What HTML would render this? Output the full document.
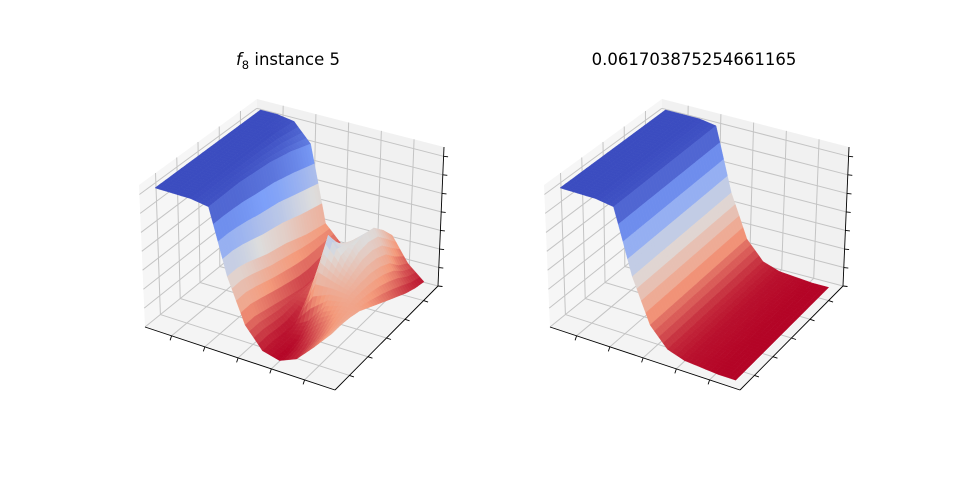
<!DOCTYPE html>
<html><head><meta charset="utf-8"><style>
body{margin:0;background:#fff}
svg{display:block;font-family:"DejaVu Sans","Liberation Sans",sans-serif}
</style></head><body>
<svg id="fig" width="960" height="480" viewBox="0 0 960 480">
<rect width="960" height="480" fill="#fff"/>
<text x="288" y="65" font-size="16.5" text-anchor="middle"><tspan font-style="italic">f</tspan><tspan font-size="11.5" dy="4">8</tspan><tspan dy="-4"> instance 5</tspan></text>
<text x="694" y="65" font-size="16.5" text-anchor="middle">0.061703875254661165</text>
<g id="left"></g>
<g id="right"></g>
</svg>
<script>
// tick positions (axis fractions)
const xTicks=[0.14,0.315,0.49,0.665,0.84];
const yTicks=[0.14,0.32,0.5,0.68,0.86];
const zTicks=[0,0.133,0.266,0.4,0.533,0.666,0.8,0.933];
// data grid coordinates (axis fractions)
const gridU=[0.05,0.14,0.23,0.32,0.41,0.50,0.59,0.68,0.77,0.86,0.95];
const gridV=[0.05,0.14,0.23,0.32,0.41,0.50,0.59,0.68,0.77,0.86,0.95];
// left surface heights, rows = v (front->back), cols = u
const leftZ=[
[.97,.97,.97,.95,.50,.20,.06,.03,.08,.20,.33],
[.97,.97,.97,.95,.50,.20,.06,.03,.10,.22,.33],
[.97,.97,.97,.95,.48,.18,.05,.05,.16,.26,.32],
[.97,.97,.97,.95,.45,.16,.05,.12,.26,.30,.30],
[.97,.97,.97,.94,.42,.14,.08,.40,.36,.33,.26],
[.97,.97,.97,.93,.40,.12,.15,.60,.44,.34,.22],
[.97,.97,.97,.92,.38,.10,.20,.48,.50,.34,.18],
[.97,.97,.97,.90,.35,.10,.22,.42,.52,.32,.14],
[.97,.97,.97,.88,.32,.12,.22,.38,.50,.28,.10],
[.97,.97,.96,.85,.30,.14,.22,.34,.42,.20,.07],
[.97,.97,.95,.82,.28,.16,.22,.28,.32,.15,.05]];
// right surface profile along u (same for every v row)
const rightProfile=[.97,.97,.97,.95,.50,.20,.07,.03,.02,.01,.01];

const NS="http://www.w3.org/2000/svg";
function mk(tag,attrs,parent){const e=document.createElementNS(NS,tag);for(const k in attrs)e.setAttribute(k,attrs[k]);parent.appendChild(e);return e;}
function lerp(a,b,t){return a+(b-a)*t;}
function bil(P,u,v){
  const x=(1-u)*(1-v)*P[0][0]+u*(1-v)*P[1][0]+u*v*P[2][0]+(1-u)*v*P[3][0];
  const y=(1-u)*(1-v)*P[0][1]+u*(1-v)*P[1][1]+u*v*P[2][1]+(1-u)*v*P[3][1];
  return [x,y];}
const cmapStops=[[0,[59,76,192]],[0.25,[124,159,249]],[0.5,[221,221,221]],[0.75,[244,154,123]],[1,[180,4,38]]];
function coolwarm(t){t=Math.max(0,Math.min(1,t));for(let i=1;i<cmapStops.length;i++){if(t<=cmapStops[i][0]){const a=cmapStops[i-1],b=cmapStops[i];const f=(t-a[0])/(b[0]-a[0]);return 'rgb('+a[1].map((c,k)=>Math.round(lerp(c,b[1][k],f))).join(',')+')';}}return 'rgb(180,4,38)';}

function drawAxes(g,dx,Z){
  const floor=[[145+dx,327],[335+dx,390],[438+dx,286],[255+dx,238]];
  const top=[[139+dx,185],[338+dx,245],[444+dx,147],[257+dx,99]];
  const P=(u,v,z)=>{const a=bil(floor,u,v),b=bil(top,u,v);return [lerp(a[0],b[0],z),lerp(a[1],b[1],z)];};
  const poly=(pts)=>pts.map(p=>p[0].toFixed(1)+','+p[1].toFixed(1)).join(' ');
  let e;
  e=mk('polygon',{points:poly([P(0,0,0),P(0,1,0),P(0,1,1),P(0,0,1)]),fill:'#f6f6f6'},g);
  
  
  e=mk('polygon',{points:poly([P(0,1,0),P(1,1,0),P(1,1,1),P(0,1,1)]),fill:'#f1f1f1'},g);
  
  
  e=mk('polygon',{points:poly([P(0,0,0),P(1,0,0),P(1,1,0),P(0,1,0)]),fill:'#f4f4f4'},g);
  
  
  const gl=(a,b,name)=>{const l=mk('line',{x1:a[0],y1:a[1],x2:b[0],y2:b[1],stroke:'#c4c4c4','stroke-width':1},g);};
  xTicks.forEach(t=>{gl(P(t,0,0),P(t,1,0),'floor-gridline-x');gl(P(t,1,0),P(t,1,1),'back-gridline-x');});
  yTicks.forEach(t=>{gl(P(0,t,0),P(1,t,0),'floor-gridline-y');gl(P(0,t,0),P(0,t,1),'left-gridline-y');});
  zTicks.forEach(t=>{gl(P(0,0,t),P(0,1,t),'left-gridline-z');gl(P(0,1,t),P(1,1,t),'back-gridline-z');});
  const quads=[];const S=4;
  const zmin=Math.min(...Z.flat()),zmax=Math.max(...Z.flat());
  const zAt=(i,j,fi,fj)=>{const i2=Math.min(i+1,10),j2=Math.min(j+1,10);return (1-fi)*(1-fj)*Z[j][i]+fi*(1-fj)*Z[j][i2]+fi*fj*Z[j2][i2]+(1-fi)*fj*Z[j2][i];};
  for(let j=0;j<10;j++)for(let i=0;i<10;i++)for(let b=0;b<S;b++)for(let a=0;a<S;a++){
    const f=[[a/S,b/S],[(a+1)/S,b/S],[(a+1)/S,(b+1)/S],[a/S,(b+1)/S]];
    const pts=f.map(([fi,fj])=>{const u=lerp(gridU[i],gridU[i+1],fi),v=lerp(gridV[j],gridV[j+1],fj);return P(u,v,zAt(i,j,fi,fj));});
    const zc=zAt(i,j,(a+.5)/S,(b+.5)/S);
    const uc=lerp(gridU[i],gridU[i+1],(a+.5)/S),vc=lerp(gridV[j],gridV[j+1],(b+.5)/S);
    quads.push({pts,zc,d:vc-uc});
  }
  quads.sort((p,q)=>q.d-p.d);
  const sg=mk('g',{},g);
  
  
  quads.forEach(q=>{const c=coolwarm(1-(q.zc-zmin)/(zmax-zmin));const e=mk('polygon',{points:poly(q.pts),fill:c,stroke:c,'stroke-width':0.4},sg);
    
    });
  const al=(a,b,name)=>{const l=mk('line',{x1:a[0],y1:a[1],x2:b[0],y2:b[1],stroke:'#000','stroke-width':0.9},g);};
  al(P(0,0,0),P(1,0,0),'x-axis-line');
  al(P(1,0,0),P(1,1,0),'y-axis-line');
  al(P(1,1,0),P(1,1,1),'z-axis-line');
  xTicks.forEach(t=>{const p=P(t,0,0);al(p,[p[0]-1.5,p[1]+4.5],'x-tick');});
  yTicks.forEach(t=>{const p=P(1,t,0);al(p,[p[0]+4.5,p[1]+1.5],'y-tick');});
  zTicks.forEach(t=>{const p=P(1,1,t);al(p,[p[0]+4.5,p[1]+0.5],'z-tick');});
}
drawAxes(document.getElementById('left'),0,leftZ);
drawAxes(document.getElementById('right'),405,gridV.map(()=>rightProfile.slice()));
</script>
</body></html>
